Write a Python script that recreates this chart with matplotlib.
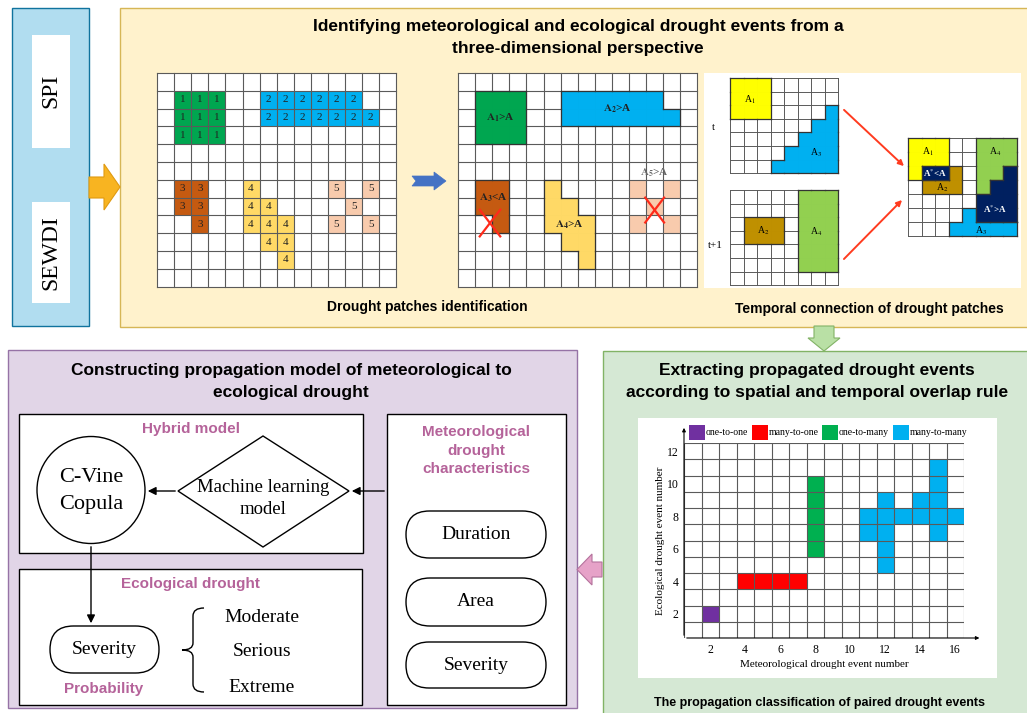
import matplotlib
matplotlib.use("Agg")
import matplotlib.pyplot as plt
from matplotlib.patches import Rectangle, Polygon, Ellipse, FancyBboxPatch, PathPatch
from matplotlib.path import Path

plt.rcParams['mathtext.fontset'] = 'stix'
SANS = 'Liberation Sans'
SERIF = 'Liberation Serif'

# ---------------- data ----------------
# Panel 1: drought patches on a 12 x 14 grid, cells as (row, col)
patch1 = [(1, 1), (1, 2), (1, 3), (2, 1), (2, 2), (2, 3), (3, 1), (3, 2), (3, 3)]
patch2 = [(1, 6), (1, 7), (1, 8), (1, 9), (1, 10), (1, 11),
          (2, 6), (2, 7), (2, 8), (2, 9), (2, 10), (2, 11), (2, 12)]
patch3 = [(6, 1), (6, 2), (7, 1), (7, 2), (8, 2)]
patch4 = [(6, 5), (7, 5), (7, 6), (8, 5), (8, 6), (8, 7), (9, 6), (9, 7), (10, 7)]
patch5 = [(6, 10), (6, 12), (7, 11), (8, 10), (8, 12)]
patch_ids = ['1', '2', '3', '4', '5']
patch_labels = [r'$\mathbf{A_1}$>A', r'$\mathbf{A_2}$>A', r'$\mathbf{A_3}$<A',
                r'$\mathbf{A_4}$>A', r'$\mathbf{A_5}$>A']

# Panel 2: temporal connection (7 x 8 grids)
t_A1 = [(0, 0), (0, 1), (0, 2), (1, 0), (1, 1), (1, 2), (2, 0), (2, 1), (2, 2)]
t_A3 = [(2, 7), (3, 6), (3, 7), (4, 5), (4, 6), (4, 7), (5, 4), (5, 5), (5, 6), (5, 7),
        (6, 3), (6, 4), (6, 5), (6, 6), (6, 7)]
t1_A2 = [(2, 1), (2, 2), (2, 3), (3, 1), (3, 2), (3, 3)]
t1_A4 = [(0, 5), (0, 6), (0, 7), (1, 5), (1, 6), (1, 7), (2, 5), (2, 6), (2, 7),
         (3, 5), (3, 6), (3, 7), (4, 5), (4, 6), (4, 7), (5, 5), (5, 6), (5, 7)]

# Panel 3: propagation classification of paired events
one_to_one_x = [2]
one_to_one_y = [2]
many_to_one_x = [4, 5, 6, 7]
many_to_one_y = [4, 4, 4, 4]
one_to_many_x = [8, 8, 8, 8, 8]
one_to_many_y = [6, 7, 8, 9, 10]
many_to_many_x = [15, 15, 12, 14, 15, 11, 12, 13, 14, 15, 16, 11, 12, 15, 12, 12]
many_to_many_y = [11, 10, 9, 9, 9, 8, 8, 8, 8, 8, 8, 7, 7, 7, 6, 5]
class_names = ['one-to-one', 'many-to-one', 'one-to-many', 'many-to-many']
x_ticks = [2, 4, 6, 8, 10, 12, 14, 16]
y_ticks = [2, 4, 6, 8, 10, 12]

# Model panel texts
met_chars = ['Duration', 'Area', 'Severity']
eco_levels = ['Moderate', 'Serious', 'Extreme']

# ---------------- figure ----------------
fig = plt.figure(figsize=(10.27, 7.13), dpi=100)
ax = fig.add_axes([0, 0, 1, 1])
ax.set_xlim(0, 1027)
ax.set_ylim(713, 0)
ax.axis('off')

GRID_C = '#5a5a5a'


def rect(x0, y0, w, h, fc, ec, lw=1.0, z=1):
    ax.add_patch(Rectangle((x0, y0), w, h, fc=fc, ec=ec, lw=lw, zorder=z))


def grid(x0, y0, cw, ch, ncol, nrow, z=3, lw=0.8):
    rect(x0, y0, cw * ncol, ch * nrow, 'white', 'none', 0, z - 1)
    for i in range(ncol + 1):
        ax.plot([x0 + i * cw] * 2, [y0, y0 + nrow * ch], color=GRID_C, lw=lw, zorder=z)
    for j in range(nrow + 1):
        ax.plot([x0, x0 + ncol * cw], [y0 + j * ch] * 2, color=GRID_C, lw=lw, zorder=z)


def cells(cl, x0, y0, cw, ch, color, z=2.5):
    for r, c in cl:
        ax.add_patch(Rectangle((x0 + c * cw, y0 + r * ch), cw, ch, fc=color, ec=color,
                               lw=0.6, zorder=z))


def merged(cl, x0, y0, cw, ch, color, z=4, ec='#333333'):
    s = set(cl)
    cells(cl, x0, y0, cw, ch, color, z)
    for r, c in cl:
        xa, ya = x0 + c * cw, y0 + r * ch
        if (r - 1, c) not in s:
            ax.plot([xa, xa + cw], [ya, ya], color=ec, lw=0.9, zorder=z + 0.1)
        if (r + 1, c) not in s:
            ax.plot([xa, xa + cw], [ya + ch, ya + ch], color=ec, lw=0.9, zorder=z + 0.1)
        if (r, c - 1) not in s:
            ax.plot([xa, xa], [ya, ya + ch], color=ec, lw=0.9, zorder=z + 0.1)
        if (r, c + 1) not in s:
            ax.plot([xa + cw, xa + cw], [ya, ya + ch], color=ec, lw=0.9, zorder=z + 0.1)


# ---------- panel backgrounds ----------
rect(12, 8, 77, 318, '#B1DDF0', '#10739E', 1.0)
rect(32, 35, 38, 113, 'white', 'none', 0, 2)
rect(32, 202, 38, 101, 'white', 'none', 0, 2)
ax.text(51, 91, 'SPI', rotation=90, ha='center', va='center', family=SERIF, fontsize=17, zorder=3)
ax.text(51, 253, 'SEWDI', rotation=90, ha='center', va='center', family=SERIF, fontsize=17, zorder=3)

rect(120, 8, 920, 319, '#FFF2CC', '#D6B656', 1.0)
rect(603, 351, 440, 380, '#D5E8D4', '#82B366', 1.0)
rect(8, 350, 569, 358, '#E1D5E7', '#9673A6', 1.0)

# orange arrow
ax.add_patch(Polygon([(89, 177), (104, 177), (104, 164), (120, 187), (104, 210), (104, 198), (89, 198)],
                     closed=True, fc='#F8B421', ec='#E09A10', lw=0.8, zorder=3))
# green arrow
ax.add_patch(Polygon([(814, 326), (834, 326), (834, 338), (840, 338), (824, 351), (808, 338), (814, 338)],
                     closed=True, fc='#B9E0A5', ec='#82B366', lw=0.8, zorder=3))
# pink arrow
ax.add_patch(Polygon([(602, 562), (592, 562), (592, 554), (577, 569.5), (592, 585), (592, 577), (602, 577)],
                     closed=True, fc='#E6A2C8', ec='#B5739D', lw=0.8, zorder=3))

# ---------- titles ----------
ax.text(578, 27, 'Identifying meteorological and ecological drought events from a', ha='center', va='center',
        family=SANS, weight='bold', fontsize=12.5)
ax.text(578, 49, 'three-dimensional perspective', ha='center', va='center',
        family=SANS, weight='bold', fontsize=12.5)
ax.text(427, 307, 'Drought patches identification', ha='center', va='center',
        family=SANS, weight='bold', fontsize=10)
ax.text(869, 309, 'Temporal connection of drought patches', ha='center', va='center',
        family=SANS, weight='bold', fontsize=10)

# ---------- grid 1: numbered patches ----------
G1x, G1y, Gcw, Gch = 157, 73, 17.1, 17.8
grid(G1x, G1y, Gcw, Gch, 14, 12, z=3)
for cl, col, lab in zip([patch1, patch2, patch3, patch4, patch5],
                        ['#00A650', '#00B0F0', '#C55A11', '#FFD966', '#F8CBAD'], patch_ids):
    cells(cl, G1x, G1y, Gcw, Gch, col)
    for r, c in cl:
        ax.text(G1x + (c + 0.5) * Gcw, G1y + (r + 0.5) * Gch, lab, ha='center', va='center',
                family=SERIF, fontsize=8, color='#222222', zorder=5)

# blue chevron arrow
ax.add_patch(Polygon([(412, 176), (434, 176), (434, 172), (446, 181), (434, 190), (434, 186), (412, 186), (416, 181)],
                     closed=True, fc='#4472C4', ec='#4472C4', lw=0.5, zorder=3))

# ---------- grid 2: area threshold ----------
G2x = 458
grid(G2x, G1y, Gcw, Gch, 14, 12, z=3)
cells(patch5, G2x, G1y, Gcw, Gch, '#F8CBAD')
for cl, col in zip([patch1, patch2, patch3, patch4],
                   ['#00A650', '#00B0F0', '#C55A11', '#FFD966']):
    merged(cl, G2x, G1y, Gcw, Gch, col)
lab_uv = [(2.5, 2.5), (9.3, 2.0), (2.05, 7.0), (6.5, 8.5), (11.5, 5.6)]
for (u, v), lab, tc in zip(lab_uv, patch_labels, ['#222222', '#222222', '#222222', '#222222', '#666666']):
    ax.text(G2x + u * Gcw, G1y + v * Gch, lab, ha='center', va='center', family=SERIF,
            weight='bold', fontsize=8, color=tc, zorder=6)
for (u, v, hw, hh) in [(1.87, 8.43, 0.6, 0.75), (11.5, 7.7, 0.55, 0.7)]:
    xc, yc = G2x + u * Gcw, G1y + v * Gch
    ax.plot([xc - hw * Gcw, xc + hw * Gcw], [yc - hh * Gch, yc + hh * Gch], color='#FF2A1A', lw=1.6, zorder=7)
    ax.plot([xc - hw * Gcw, xc + hw * Gcw], [yc + hh * Gch, yc - hh * Gch], color='#FF2A1A', lw=1.6, zorder=7)

# ---------- grid 3: temporal connection ----------
rect(704, 73, 317, 215, 'white', 'none', 0, 1.5)
Tcw, Tch = 13.5, 13.6
Tx, Ty, T1y = 730, 78, 190
grid(Tx, Ty, Tcw, Tch, 8, 7, z=3, lw=0.7)
grid(Tx, T1y, Tcw, Tch, 8, 7, z=3, lw=0.7)
merged(t_A1, Tx, Ty, Tcw, Tch, '#FFFF00')
merged(t_A3, Tx, Ty, Tcw, Tch, '#00B0F0')
merged(t1_A2, Tx, T1y, Tcw, Tch, '#BF9000')
merged(t1_A4, Tx, T1y, Tcw, Tch, '#92D050')
sub_lab = dict(family=SERIF, fontsize=7, ha='center', va='center', zorder=6)
ax.text(Tx + 1.5 * Tcw, Ty + 1.6 * Tch, r'A$_1$', **sub_lab)
ax.text(Tx + 6.4 * Tcw, Ty + 5.5 * Tch, r'A$_3$', **sub_lab)
ax.text(Tx + 2.45 * Tcw, T1y + 3.0 * Tch, r'A$_2$', **sub_lab)
ax.text(Tx + 6.4 * Tcw, T1y + 3.1 * Tch, r'A$_4$', **sub_lab)
ax.text(713, 127, 't', family=SERIF, fontsize=8, ha='center', va='center')
ax.text(715, 245, 't+1', family=SERIF, fontsize=8, ha='center', va='center')

# result grid
Rx, Ry, Rcw, Rch = 908, 138, 13.6, 14.0
grid(Rx, Ry, Rcw, Rch, 8, 7, z=3, lw=0.7)
ov1 = sorted(set(t_A1) & set(t1_A2))
ov2 = sorted(set(t_A3) & set(t1_A4))
merged([c for c in t_A1 if c not in ov1], Rx, Ry, Rcw, Rch, '#FFFF00')
merged([c for c in t_A3 if c not in ov2], Rx, Ry, Rcw, Rch, '#00B0F0')
merged([c for c in t1_A2 if c not in ov1], Rx, Ry, Rcw, Rch, '#BF9000')
merged([c for c in t1_A4 if c not in ov2], Rx, Ry, Rcw, Rch, '#92D050')
merged(ov1, Rx, Ry, Rcw, Rch, '#002060', z=4.5)
merged(ov2, Rx, Ry, Rcw, Rch, '#002060', z=4.5)
ax.text(Rx + 1.47 * Rcw, Ry + 1.0 * Rch, r'A$_1$', **sub_lab)
ax.text(Rx + 6.4 * Rcw, Ry + 1.0 * Rch, r'A$_4$', **sub_lab)
ax.text(Rx + 2.5 * Rcw, Ry + 3.57 * Rch, r'A$_2$', **sub_lab)
ax.text(Rx + 5.4 * Rcw, Ry + 6.6 * Rch, r'A$_3$', **sub_lab)
ax.text(Rx + 2.0 * Rcw, Ry + 2.55 * Rch, r'A$^{*}$<A', family=SERIF, fontsize=6.5, ha='center',
        va='center', color='white', weight='bold', zorder=6)
ax.text(Rx + 6.4 * Rcw, Ry + 5.1 * Rch, r'A$^{*}$>A', family=SERIF, fontsize=6.5, ha='center',
        va='center', color='white', weight='bold', zorder=6)
for (x0, y0, x1, y1) in [(842, 108, 906, 168), (842, 261, 904, 198)]:
    ax.annotate('', xy=(x1, y1), xytext=(x0, y0),
                arrowprops=dict(arrowstyle='-|>', color='#FF3B1F', lw=1.4, mutation_scale=8), zorder=6)

# ---------- green panel ----------
ax.text(817, 371, 'Extracting propagated drought events', ha='center', va='center',
        family=SANS, weight='bold', fontsize=12.5)
ax.text(817, 392, 'according to spatial and temporal overlap rule', ha='center', va='center',
        family=SANS, weight='bold', fontsize=12.5)
ax.text(819, 703, 'The propagation classification of paired drought events', ha='center', va='center',
        family=SANS, weight='bold', fontsize=9)
rect(638, 418, 359, 260, 'white', 'none', 0, 1.5)

cax = fig.add_axes([684 / 1027, 1 - 638 / 713, 280 / 1027, 195 / 713])
cax.set_xlim(0.5, 16.5)
cax.set_ylim(0.5, 12.5)
cls_colors = ['#7030A0', '#FF0000', '#00B050', '#00B0F0']
for xs, ys, col in zip([one_to_one_x, many_to_one_x, one_to_many_x, many_to_many_x],
                       [one_to_one_y, many_to_one_y, one_to_many_y, many_to_many_y], cls_colors):
    cax.bar(xs, [1] * len(xs), bottom=[y - 0.5 for y in ys], width=1, color=col, edgecolor=col,
            lw=0.5, zorder=2)
cax.vlines([i + 0.5 for i in range(17)], 0.5, 12.5, colors=GRID_C, lw=0.8, zorder=3)
cax.hlines([j + 0.5 for j in range(13)], 0.5, 16.5, colors=GRID_C, lw=0.8, zorder=3)
for s in cax.spines.values():
    s.set_visible(False)
cax.set_xticks(x_ticks)
cax.set_yticks(y_ticks)
cax.tick_params(length=0, labelsize=8.5, pad=4)
for lab in cax.get_xticklabels() + cax.get_yticklabels():
    lab.set_fontfamily(SERIF)
cax.annotate('', xy=(1.065, 0), xytext=(0, 0), xycoords='axes fraction',
             arrowprops=dict(arrowstyle='-|>', color='black', lw=0.8, mutation_scale=5))
cax.annotate('', xy=(0, 1.092), xytext=(0, 0), xycoords='axes fraction',
             arrowprops=dict(arrowstyle='-|>', color='black', lw=0.8, mutation_scale=5))
cax.set_xlabel('Meteorological drought event number', family=SERIF, fontsize=8, labelpad=3)
cax.set_ylabel('Ecological drought event number', family=SERIF, fontsize=8, labelpad=1)
cax.patch.set_alpha(0)

leg_x = [689, 752, 822, 893]
for lx, col, name in zip(leg_x, cls_colors, class_names):
    rect(lx, 425, 16, 15, col, 'none', 0, 3)
    ax.text(lx + 17, 432.5, name, family=SERIF, fontsize=7, ha='left', va='center', zorder=3)

# ---------- purple panel ----------
PINK = '#B5639A'
ax.text(291, 370, 'Constructing propagation model of meteorological to', ha='center', va='center',
        family=SANS, weight='bold', fontsize=12.5)
ax.text(291, 393, 'ecological drought', ha='center', va='center',
        family=SANS, weight='bold', fontsize=12.5)
rect(19, 414, 344, 139, 'white', 'black', 1.0, 2)
rect(19, 569, 343, 136, 'white', 'black', 1.0, 2)
rect(387, 414, 179, 291, 'white', 'black', 1.0, 2)
ax.text(191, 429, 'Hybrid model', color=PINK, family=SANS, weight='bold', fontsize=11, ha='center', va='center', zorder=4)
ax.text(190, 584, 'Ecological drought', color=PINK, family=SANS, weight='bold', fontsize=11, ha='center', va='center', zorder=4)
ax.text(104, 689, 'Probability', color=PINK, family=SANS, weight='bold', fontsize=11, ha='center', va='center', zorder=4)
ax.text(476, 432, 'Meteorological', color=PINK, family=SANS, weight='bold', fontsize=11, ha='center', va='center', zorder=4)
ax.text(476, 451, 'drought', color=PINK, family=SANS, weight='bold', fontsize=11, ha='center', va='center', zorder=4)
ax.text(476, 469, 'characteristics', color=PINK, family=SANS, weight='bold', fontsize=11, ha='center', va='center', zorder=4)

ax.add_patch(Ellipse((91, 490), 108, 107, fc='white', ec='black', lw=1.0, zorder=3))
ax.text(91, 477, 'C-Vine', family=SERIF, fontsize=16, ha='center', va='center', zorder=4)
ax.text(91, 505, 'Copula', family=SERIF, fontsize=16, ha='center', va='center', zorder=4)
ax.add_patch(Polygon([(178, 491), (263, 436), (349, 491), (263, 547)], closed=True, fc='white',
                     ec='black', lw=1.0, zorder=3))
ax.text(263, 487, 'Machine learning', family=SERIF, fontsize=13.5, ha='center', va='center', zorder=4)
ax.text(263, 510, 'model', family=SERIF, fontsize=13.5, ha='center', va='center', zorder=4)

arrow_kw = dict(arrowstyle='-|>', color='black', lw=1.0, mutation_scale=12)
ax.annotate('', xy=(145, 491), xytext=(178, 491), arrowprops=arrow_kw, zorder=5)
ax.annotate('', xy=(349, 491), xytext=(387, 491), arrowprops=arrow_kw, zorder=5)
ax.annotate('', xy=(91, 626), xytext=(91, 544), arrowprops=arrow_kw, zorder=5)


def rbox(x0, y0, x1, y1, text):
    h = y1 - y0
    ax.add_patch(FancyBboxPatch((x0, y0), x1 - x0, h, boxstyle='round,pad=0,rounding_size=%g' % (h / 2),
                                fc='white', ec='black', lw=1.0, zorder=3))
    ax.text((x0 + x1) / 2, (y0 + y1) / 2, text, family=SERIF, fontsize=14, ha='center', va='center', zorder=4)


rbox(50, 626, 159, 673, 'Severity')
for (y0, y1), name in zip([(511, 558), (578, 626), (642, 688)], met_chars):
    rbox(406, y0, 546, y1, name)

brace = Path([(204, 608), (193, 608), (193, 616), (193, 643), (193, 650), (182, 650),
              (193, 650), (193, 657), (193, 684), (193, 692), (204, 692)],
             [Path.MOVETO, Path.CURVE3, Path.CURVE3, Path.LINETO, Path.CURVE3, Path.CURVE3,
              Path.CURVE3, Path.CURVE3, Path.LINETO, Path.CURVE3, Path.CURVE3])
ax.add_patch(PathPatch(brace, fc='none', ec='black', lw=1.0, zorder=4))
for yy, name in zip([617, 651, 687], eco_levels):
    ax.text(262, yy, name, family=SERIF, fontsize=14, ha='center', va='center', zorder=4)

fig.savefig('out.png', dpi=100)
